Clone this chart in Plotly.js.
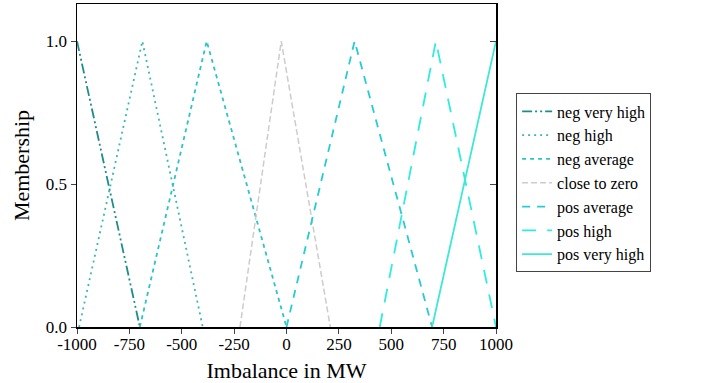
<!DOCTYPE html>
<html><head><meta charset="utf-8">
<script src="https://cdn.plot.ly/plotly-3.0.1.min.js"></script>
<style>html,body{margin:0;padding:0;background:#fff}#chart{width:702px;height:383px}</style>
</head><body><div id="chart"></div>
<script>
const seriesNames = ["neg very high","neg high","neg average","close to zero","pos average","pos high","pos very high"];
const negVeryHighX = [-1000, -700];
const negVeryHighY = [1, 0];
const negHighX = [-990, -688, -400];
const negHighY = [0, 1, 0];
const negAverageX = [-700, -381, 0];
const negAverageY = [0, 1, 0];
const closeZeroX = [-222, -25, 209];
const closeZeroY = [0, 1, 0];
const posAverageX = [0, 325, 695];
const posAverageY = [0, 1, 0];
const posHighX = [445, 713, 1000];
const posHighY = [0, 1, 0];
const posVeryHighX = [695, 1000];
const posVeryHighY = [0, 1];
const xTicks = [-1000, -750, -500, -250, 0, 250, 500, 750, 1000];
const yTicks = [0, 0.5, 1];
const yTickText = ["0.0", "0.5", "1.0"];

const styles = [
  {color:"#1e8c8c", dash:"10px,3px,2px,3px,2px,3px", width:1.8},
  {color:"#3cb6b6", dash:"2px,4px", width:1.8},
  {color:"#2cc4c8", dash:"4px,4px", width:1.8},
  {color:"#cccccc", dash:"6px,3px", width:1.5},
  {color:"#26ccd4", dash:"8px,7px", width:1.8},
  {color:"#2eecdf", dash:"14px,11px", width:1.8},
  {color:"#3ee8d4", dash:"solid", width:1.8}
];
const xs = [negVeryHighX, negHighX, negAverageX, closeZeroX, posAverageX, posHighX, posVeryHighX];
const ys = [negVeryHighY, negHighY, negAverageY, closeZeroY, posAverageY, posHighY, posVeryHighY];
const traces = seriesNames.map((n,i)=>({
  type:"scatter", mode:"lines", name:n, x:xs[i], y:ys[i], cliponaxis:false,
  line:{color:styles[i].color, dash:styles[i].dash, width:styles[i].width}
}));
traces.push({type:"scatter", mode:"lines", x:[0], y:[0], yaxis:"y2", showlegend:false, hoverinfo:"skip", line:{width:0}});

const fam = "Liberation Serif, Times New Roman, serif";
const layout = {
  width:702, height:383,
  margin:{l:77, r:206, t:4, b:56},
  paper_bgcolor:"#fff", plot_bgcolor:"#fff",
  font:{family:fam, size:16, color:"#000"},
  showlegend:true,
  legend:{x:1.048, y:0.446, xanchor:"left", yanchor:"middle", bordercolor:"#444", borderwidth:1,
    font:{family:fam, size:16, color:"#000"}, tracegroupgap:0},
  xaxis:{range:[-1000,1000], tickvals:xTicks, ticktext:xTicks.map(String), ticks:"outside", ticklen:5,
    showgrid:false, zeroline:false, showline:true, linecolor:"#000", linewidth:1.5, mirror:true,
    tickfont:{family:fam, size:17, color:"#000"}, ticklabelstandoff:-4,
    title:{text:"Imbalance in MW", font:{family:fam, size:22, color:"#000"}, standoff:10}},
  yaxis:{range:[0,1.13], tickvals:yTicks, ticktext:yTickText, ticks:"outside", ticklen:5,
    showgrid:false, zeroline:false, showline:true, linecolor:"#000", linewidth:1.5,
    tickfont:{family:fam, size:17, color:"#000"},
    title:{text:"Membership", font:{family:fam, size:22, color:"#000"}, standoff:10}},
  yaxis2:{range:[0,1.13], overlaying:"y", side:"right", tickvals:yTicks, ticks:"inside", ticklen:6,
    showticklabels:false, showgrid:false, zeroline:false, showline:true, linecolor:"#000", linewidth:1.5}
};
Plotly.newPlot("chart", traces, layout, {displayModeBar:false, staticPlot:true});
</script></body></html>
